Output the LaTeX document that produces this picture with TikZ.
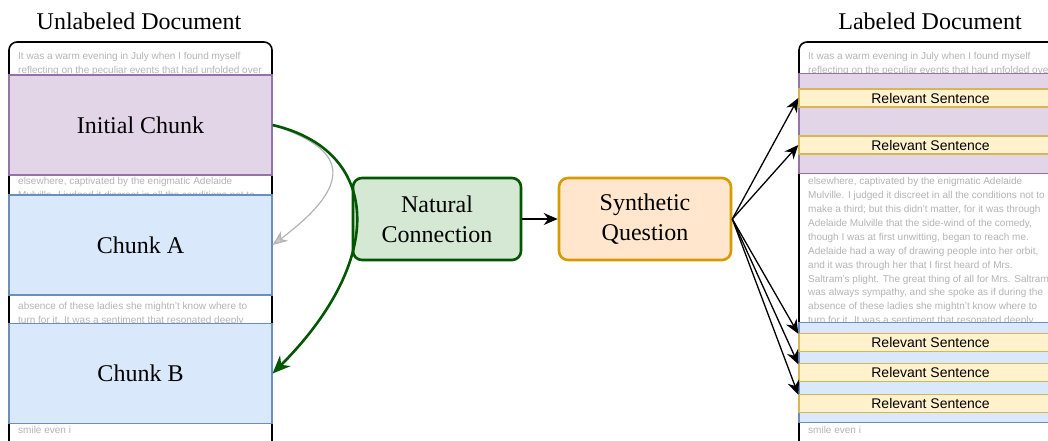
\documentclass[tikz,border=0pt]{standalone}
\usepackage{fontspec}
\setmainfont{Liberation Serif}
\newfontfamily\docfont{Liberation Sans}
\usetikzlibrary{arrows.meta,calc}
\definecolor{purpF}{HTML}{E1D5E7}
\definecolor{purpS}{HTML}{9673A6}
\definecolor{blueF}{HTML}{DAE8FC}
\definecolor{blueS}{HTML}{6C8EBF}
\definecolor{yelF}{HTML}{FFF2CC}
\definecolor{yelS}{HTML}{D6B656}
\definecolor{grnF}{HTML}{D5E8D4}
\definecolor{grnS}{HTML}{005700}
\definecolor{orgF}{HTML}{FFE6CC}
\definecolor{orgS}{HTML}{D79B00}
\definecolor{doctext}{HTML}{B4B4B4}
\definecolor{grayarrow}{HTML}{B3B3B3}
\tikzset{
  docframe/.style={draw=black, line width=1.6pt, rounded corners=8pt},
  txt/.style={anchor=base west, font=\docfont\fontsize{10}{12}\selectfont, text=doctext, inner sep=0pt},
  title/.style={font=\fontsize{24}{28}\selectfont, inner sep=0pt},
  chunkP/.style={draw=purpS, fill=purpF, line width=1.2pt, minimum width=263pt, minimum height=100pt, inner sep=0pt, font=\fontsize{24}{28}\selectfont},
  chunkB/.style={draw=blueS, fill=blueF, line width=1.2pt, minimum width=263pt, minimum height=100pt, inner sep=0pt, font=\fontsize{24}{28}\selectfont},
  relsent/.style={draw=yelS, fill=yelF, line width=1.4pt, minimum width=263pt, minimum height=18pt, inner sep=0pt, font=\docfont\fontsize{14}{14}\selectfont},
  procbox/.style={rounded corners=9pt, line width=2.6pt, minimum height=82pt, inner sep=0pt, align=center, font=\fontsize{24}{30}\selectfont},
  blackarrow/.style={draw=black, line width=1.3pt, -{Stealth[length=14pt,width=12pt]}},
}
\begin{document}
\begin{tikzpicture}[x=1pt,y=-1pt]
\clip (0,0) rectangle (1048,440);
\fill[white] (0,0) rectangle (1048,440);

% titles
\node[title] (tl) at (139,21) {Unlabeled Document};
\node[title] (tr) at (930,21) {Labeled Document};

% frames
\coordinate (lfa) at (9,450);
\coordinate (lfb) at (272,450);
\coordinate (rfa) at (799,450);
\coordinate (rfb) at (1062,450);
\draw[docframe] (lfa) -- (9,42) -- (272,42) -- (lfb);
\draw[docframe] (rfa) -- (799,42) -- (1062,42) -- (rfb);

% left document text
\node[txt] (l0) at (18,59.6) {It was a warm evening in July when I found myself};
\node[txt] (l1) at (18,73.5) {reflecting on the peculiar events that had unfolded over};
\node[txt] (l9) at (18,184.7) {elsewhere, captivated by the enigmatic Adelaide};
\node[txt] (l10) at (18,198.6) {Mulville. I judged it discreet in all the conditions not to};
\node[txt] (l18) at (18,309.8) {absence of these ladies she mightn’t know where to};
\node[txt] (l19) at (18,323.7) {turn for it. It was a sentiment that resonated deeply};
\node[txt] (l27) at (18,433.5) {smile even i};

% right document text
\node[txt] (r0) at (808,59.6) {It was a warm evening in July when I found myself};
\node[txt] (r1) at (808,73.5) {reflecting on the peculiar events that had unfolded over};
\node[txt] (r9) at (808,184.7) {elsewhere, captivated by the enigmatic Adelaide};
\node[txt] (r10) at (808,198.6) {Mulville. I judged it discreet in all the conditions not to};
\node[txt] (r11) at (808,212.5) {make a third; but this didn’t matter, for it was through};
\node[txt] (r12) at (808,226.4) {Adelaide Mulville that the side-wind of the comedy,};
\node[txt] (r13) at (808,240.3) {though I was at first unwitting, began to reach me.};
\node[txt] (r14) at (808,254.2) {Adelaide had a way of drawing people into her orbit,};
\node[txt] (r15) at (808,268.1) {and it was through her that I first heard of Mrs.};
\node[txt] (r16) at (808,282.0) {Saltram’s plight. The great thing of all for Mrs. Saltram};
\node[txt] (r17) at (808,295.9) {was always sympathy, and she spoke as if during the};
\node[txt] (r18) at (808,309.8) {absence of these ladies she mightn’t know where to};
\node[txt] (r19) at (808,323.7) {turn for it. It was a sentiment that resonated deeply};
\node[txt] (r27) at (808,433.5) {smile even i};

% left chunks
\node[chunkP] (ic) at (140.5,125) {Initial Chunk};
\node[chunkB] (ca) at (140.5,245) {Chunk A};
\node[chunkB] (cb) at (140.5,373.5) {Chunk B};

% right chunks
\node[chunkP] (rp) at (930.5,123.5) {};
\node[chunkB] (rb) at (930.5,372.5) {};
\node[relsent] (rs1) at (930.5,98) {Relevant Sentence};
\node[relsent] (rs2) at (930.5,145) {Relevant Sentence};
\node[relsent] (rs3) at (930.5,342.5) {Relevant Sentence};
\node[relsent] (rs4) at (930.5,372.5) {Relevant Sentence};
\node[relsent] (rs5) at (930.5,403.5) {Relevant Sentence};

% process boxes
\node[procbox, draw=grnS, fill=grnF, minimum width=168pt] (nc) at (437,219) {Natural\\Connection};
\node[procbox, draw=orgS, fill=orgF, minimum width=172pt] (sq) at (645,219) {Synthetic\\Question};

% arrows
\draw[draw=grayarrow, line width=1.2pt, -{Stealth[length=15pt,width=12pt,fill=grayarrow!70]}]
  (ic.east) .. controls (340,147) and (362,178) .. (ca.east);
\draw[draw=grnS, line width=2.6pt, -{Stealth[length=18pt,width=15pt]}]
  (ic.east) .. controls (380,150) and (388,258) .. (cb.east);
\draw[blackarrow] (nc.east) -- (sq.west);
\draw[blackarrow] (sq.east) -- (rs1.west);
\draw[blackarrow] (sq.east) -- (rs2.west);
\draw[blackarrow] (sq.east) -- ($(rs3.north west)+(0,1)$);
\draw[blackarrow] (sq.east) -- ($(rs4.north west)+(0,1.5)$);
\draw[blackarrow] (sq.east) -- ($(rs5.north west)+(0,1)$);
\end{tikzpicture}
\end{document}
